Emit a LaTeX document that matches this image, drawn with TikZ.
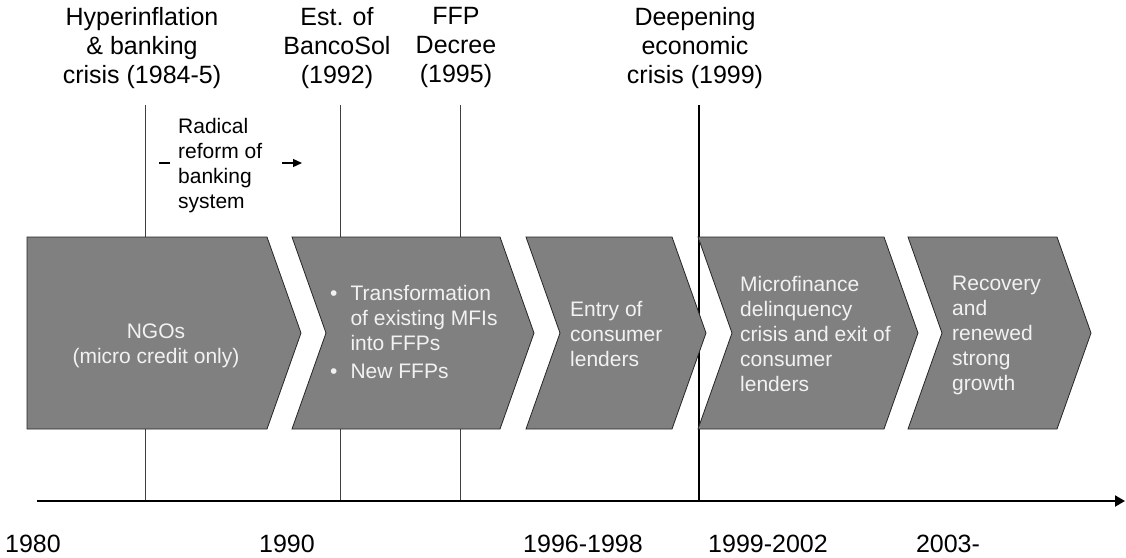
\documentclass[tikz,border=0pt]{standalone}
\usepackage{fontspec}
\setmainfont{Liberation Sans}
\usetikzlibrary{arrows.meta}
\definecolor{chevfill}{HTML}{808080}
\definecolor{chevtext}{HTML}{F2F2F2}
\begin{document}
\begin{tikzpicture}[x=1pt,y=-1pt,
  chevron/.style={fill=chevfill, draw=black!85, line width=0.8pt, line join=miter},
  eventlabel/.style={font=\fontsize{25}{29}\selectfont, align=center, anchor=north, inner sep=0pt},
  notelabel/.style={font=\fontsize{21}{25}\selectfont, align=left, anchor=north west, inner sep=0pt},
  chevlabel/.style={notelabel, text=chevtext},
  yearlabel/.style={font=\fontsize{25}{29}\selectfont, anchor=base, inner sep=0pt},
  eventline/.style={draw=black!75, line width=0.8pt},
  axisline/.style={line width=2pt, -{Triangle[length=10pt,width=11pt]}},
  smallarrow/.style={line width=1.3pt},
]
\useasboundingbox (0,0) rectangle (1126,557);

% time axis
\coordinate (axL) at (37,501);
\coordinate (axR) at (1125,501);

% event markers, from their label down to the axis
\coordinate (t1) at (145,105);
\coordinate (t2) at (340,105);
\coordinate (t3) at (460,105);
\coordinate (t4) at (699,105);
\draw[eventline] (t1) -- (t1 |- axL);
\draw[eventline] (t2) -- (t2 |- axL);
\draw[eventline] (t3) -- (t3 |- axL);
\draw[eventline, draw=black, line width=1.1pt] (t4) -- (t4 |- axL);

\draw[axisline] (axL) -- (axR);

% phases
\draw[chevron] (27,237) -- (267,237) -- (301,333) -- (267,429) -- (27,429) -- cycle;
\draw[chevron] (292,237) -- (500,237) -- (534,333) -- (500,429) -- (292,429) -- (326,333) -- cycle;
\draw[chevron] (526,237) -- (672,237) -- (706,333) -- (672,429) -- (526,429) -- (560,333) -- cycle;
\draw[chevron] (698,237) -- (884,237) -- (918,333) -- (884,429) -- (698,429) -- (732,333) -- cycle;
\draw[chevron] (908,237) -- (1057,237) -- (1091,333) -- (1057,429) -- (908,429) -- (942,333) -- cycle;

\node[chevlabel, align=center, anchor=north] (ngo) at (156,324) {NGOs\\(micro credit only)};
\node[chevlabel] (ffp) at (330,282.5) {%
  \begin{tabular}{@{}l@{\hspace{13pt}}l@{}}
  \textbullet & Transformation\\
              & of existing MFIs\\
              & into FFPs\\[3pt]
  \textbullet & New FFPs
  \end{tabular}};
\node[chevlabel] (entry) at (570,301) {Entry of\\consumer\\lenders};
\node[chevlabel] (delinq) at (740,276) {Microfinance\\delinquency\\crisis and exit of\\consumer\\lenders};
\node[chevlabel] (recov) at (952,276) {Recovery\\and\\renewed\\strong\\growth};

% events
\node[eventlabel] (hyper) at (142,7) {Hyperinflation\\\& banking\\crisis (1984-5)};
\node[eventlabel] (banco) at (337,7) {Est. of\\BancoSol\\(1992)};
\node[eventlabel] (decree) at (456,7) {FFP\\Decree\\(1995)};
\node[eventlabel] (deep) at (695,7) {Deepening\\economic\\crisis (1999)};

% reform period
\node[notelabel] (radical) at (178,118) {Radical\\reform of\\banking\\system};
\coordinate (rdashA) at (159,163);
\coordinate (rdashB) at (170,163);
\coordinate (rarrA) at (282,163);
\coordinate (rarrB) at (302,163);
\draw[smallarrow] (rdashA) -- (rdashB);
\draw[smallarrow, -{Triangle[length=9pt,width=8pt]}] (rarrA) -- (rarrB);

% years
\node[yearlabel] (y1980) at (33,552) {1980};
\node[yearlabel] (y1990) at (287,552) {1990};
\node[yearlabel] (y1996) at (583,552) {1996-1998};
\node[yearlabel] (y1999) at (768,552) {1999-2002};
\node[yearlabel] (y2003) at (948,552) {2003-};
\end{tikzpicture}
\end{document}
